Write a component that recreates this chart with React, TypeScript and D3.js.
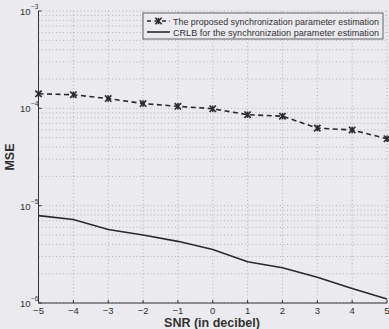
import React from "react";
import * as d3 from "d3";

const snr = [-5, -4, -3, -2, -1, 0, 1, 2, 3, 4, 5];
const proposedMse = [1.41e-4, 1.38e-4, 1.26e-4, 1.12e-4, 1.05e-4, 9.9e-5, 8.6e-5, 8.3e-5, 6.26e-5, 6.0e-5, 4.87e-5];
const crlbMse = [7.9e-6, 7.2e-6, 5.7e-6, 5.0e-6, 4.3e-6, 3.54e-6, 2.65e-6, 2.3e-6, 1.84e-6, 1.41e-6, 1.1e-6];
const xTicks = [-5, -4, -3, -2, -1, 0, 1, 2, 3, 4, 5];
const yDecades = [-6, -5, -4, -3];
const legendLabels = [
  "The proposed synchronization parameter estimation",
  "CRLB for the synchronization parameter estimation",
];

const W = 389;
const H = 329;
const BG = "#ebeaee";
const FONT = "'Liberation Sans', Arial, sans-serif";

export default function App() {
  const x = d3.scaleLinear().domain([-5, 5]).range([38.5, 387]);
  const y = d3.scaleLog().domain([1e-6, 1e-3]).range([303, 11]);

  const line = d3
    .line<number>()
    .x((_, i) => x(snr[i]))
    .y((d) => y(d));

  const minor: number[] = [];
  for (let e = -6; e < -3; e++) {
    for (let m = 2; m <= 9; m++) minor.push(m * Math.pow(10, e));
  }

  const gridStyle = { stroke: "#a4a4a8", strokeWidth: 0.8, strokeDasharray: "1,2.5" };

  const star = (cx: number, cy: number, k: number) => {
    const r = 3.2;
    return (
      <g key={k} stroke="#2a2a2e" strokeWidth={1.6}>
        <line x1={cx - r} y1={cy - r} x2={cx + r} y2={cy + r} />
        <line x1={cx - r} y1={cy + r} x2={cx + r} y2={cy - r} />
        <line x1={cx} y1={cy - r} x2={cx} y2={cy + r} />
      </g>
    );
  };

  return (
    <svg
      width={W}
      height={H}
      style={{ position: "fixed", left: 0, top: 0, background: BG }}
      fontFamily={FONT}
    >
      <rect x={0} y={0} width={W} height={H} fill={BG} />
      {/* grid */}
      <g>
        {xTicks.slice(1).map((t) => (
          <line key={"gx" + t} x1={x(t)} x2={x(t)} y1={y(1e-3)} y2={y(1e-6)} {...gridStyle} />
        ))}
        {minor.map((v, i) => (
          <line key={"gm" + i} x1={x(-5)} x2={x(5)} y1={y(v)} y2={y(v)} {...gridStyle} />
        ))}
        {yDecades.map((e) => (
          <line key={"gd" + e} x1={x(-5)} x2={x(5)} y1={y(Math.pow(10, e))} y2={y(Math.pow(10, e))} {...gridStyle} />
        ))}
      </g>

      {/* axes */}
      <line x1={x(-5)} x2={x(-5)} y1={y(1e-3)} y2={y(1e-6)} stroke="#333" strokeWidth={1} />
      <line x1={x(-5)} x2={x(5)} y1={y(1e-6)} y2={y(1e-6)} stroke="#333" strokeWidth={1} />
      {xTicks.map((t) => (
        <g key={"xt" + t}>
          <line x1={x(t)} x2={x(t)} y1={y(1e-6)} y2={y(1e-6) - 3} stroke="#333" />
          <text x={x(t)} y={314} fontSize={9.5} textAnchor="middle" fill="#333">
            {t < 0 ? "\u2212" + Math.abs(t) : String(t)}
          </text>
        </g>
      ))}
      {yDecades.map((e) => (
        <g key={"yt" + e}>
          <line x1={x(-5)} x2={x(-5) + 3} y1={y(Math.pow(10, e))} y2={y(Math.pow(10, e))} stroke="#333" />
          <text x={x(-5) - 8} y={y(Math.pow(10, e)) + 4} fontSize={9.5} textAnchor="end" fill="#333">
            10
          </text>
          <text x={x(-5) - 7.5} y={y(Math.pow(10, e)) - 2} fontSize={6.5} textAnchor="start" fill="#333">
            {"\u2212" + Math.abs(e)}
          </text>
        </g>
      ))}

      {/* series */}
      <path d={line(crlbMse) || ""} fill="none" stroke="#2a2a2e" strokeWidth={1.6} />
      <path d={line(proposedMse) || ""} fill="none" stroke="#2a2a2e" strokeWidth={1.6} strokeDasharray="5,3.5" />
      {proposedMse.map((v, i) => star(x(snr[i]), y(v), i))}

      {/* axis labels */}
      <text x={212} y={327} fontSize={12.5} fontWeight="bold" textAnchor="middle" fill="#333">
        SNR (in decibel)
      </text>
      <text
        transform="translate(14,157) rotate(-90)"
        fontSize={12.5}
        fontWeight="bold"
        textAnchor="middle"
        fill="#333"
      >
        MSE
      </text>

      {/* legend */}
      <g>
        <rect x={143} y={13} width={240} height={26} fill={BG} stroke="#555" strokeWidth={0.9} />
        <line x1={147} x2={170} y1={21} y2={21} stroke="#2a2a2e" strokeWidth={1.6} strokeDasharray="4,3.5" />
        {star(158.5, 21, 99)}
        <text x={173} y={24.5} fontSize={9} textLength={206} lengthAdjust="spacingAndGlyphs" fill="#333">
          {legendLabels[0]}
        </text>
        <line x1={147} x2={170} y1={32} y2={32} stroke="#2a2a2e" strokeWidth={1.6} />
        <text x={173} y={35.5} fontSize={9} textLength={206} lengthAdjust="spacingAndGlyphs" fill="#333">
          {legendLabels[1]}
        </text>
      </g>
    </svg>
  );
}
